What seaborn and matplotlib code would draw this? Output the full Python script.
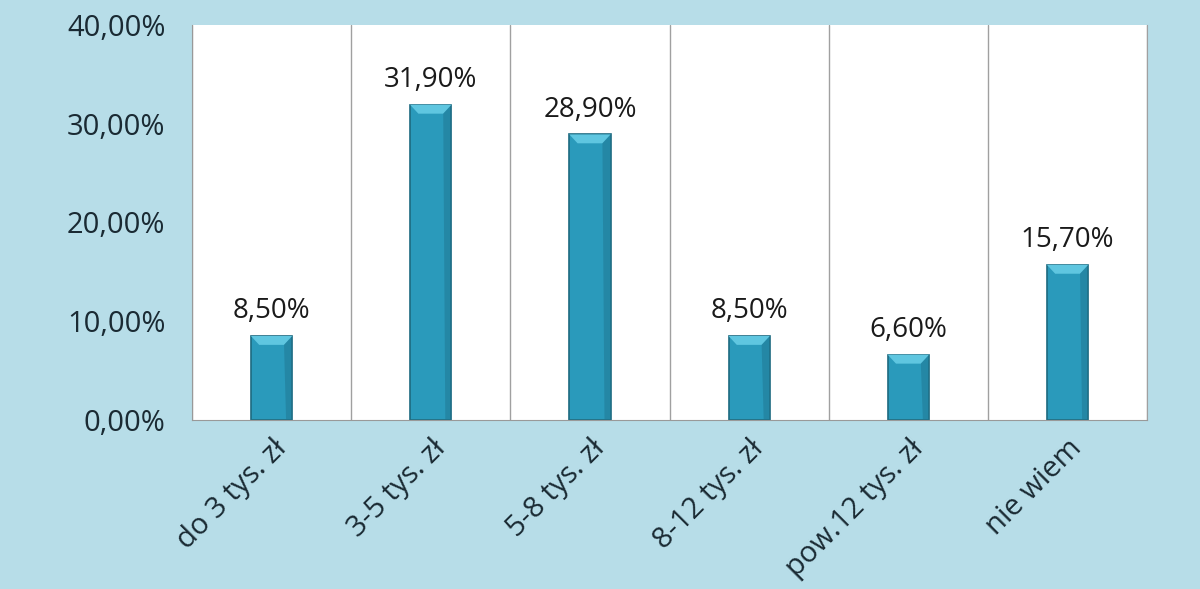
import seaborn as sns
import matplotlib.pyplot as plt
from matplotlib.patches import Polygon
import pandas as pd

categories = ["do 3 tys. zł", "3-5 tys. zł", "5-8 tys. zł", "8-12 tys. zł", "pow.12 tys. zł", "nie wiem"]
values = [8.5, 31.9, 28.9, 8.5, 6.6, 15.7]
yticks = [0, 10, 20, 30, 40]

bg = "#b7dde8"
bar_color = "#2a9abb"

df = pd.DataFrame({"kat": categories, "val": values})

sns.set_style("white")
plt.rcParams["font.family"] = ["Open Sans", "DejaVu Sans"]

fig = plt.figure(figsize=(12, 5.89), dpi=100, facecolor=bg)
ax = fig.add_axes([0.16, 0.287, 0.796, 0.671])
ax.set_facecolor("white")

sns.barplot(data=df, x="kat", y="val", color=bar_color, width=0.26,
            edgecolor="#1d6a80", linewidth=1.2, saturation=1, ax=ax)

# lighter bevel on bar tops, darker right side
for p in ax.patches:
    x0, w, h = p.get_x(), p.get_width(), p.get_height()
    cap = 0.9
    ax.add_patch(Polygon([[x0, h], [x0 + w, h], [x0 + w * 0.8, h - cap], [x0 + w * 0.2, h - cap]],
                         closed=True, facecolor="#5fc6e0", edgecolor="none", zorder=3))
    ax.add_patch(Polygon([[x0 + w * 0.8, h - cap], [x0 + w, h], [x0 + w, 0], [x0 + w * 0.85, 0]],
                         closed=True, facecolor="#1f7590", edgecolor="none", alpha=0.5, zorder=3))

for i, v in enumerate(values):
    ax.text(i, v + 1.1, f"{v:.2f}%".replace(".", ","), ha="center", va="bottom",
            fontsize=20, color="#1a1a1a")

ax.set_ylim(0, 40)
ax.set_xlim(-0.5, len(categories) - 0.5)
ax.set_yticks(yticks)
ax.set_yticklabels([f"{t:.2f}%".replace(".", ",") for t in yticks], fontsize=21, color="#1a2a33")
ax.set_xticks(range(len(categories)))
ax.set_xticklabels(categories, rotation=45, ha="right", rotation_mode="anchor", fontsize=21, color="#1a2a33")
ax.set_xlabel("")
ax.set_ylabel("")

# category boundary grid lines
ax.set_xticks([i - 0.5 for i in range(len(categories) + 1)], minor=True)
ax.grid(which="minor", axis="x", color="#a0a0a0", linewidth=1)
ax.tick_params(axis="x", which="major", length=0, pad=10)
ax.tick_params(axis="x", which="minor", length=7, color="#999999", direction="out")
ax.tick_params(axis="y", length=7, color="#999999", direction="out", pad=12)

ax.spines["top"].set_visible(False)
ax.spines["right"].set_color("#a0a0a0")
ax.spines["left"].set_color("#999999")
ax.spines["bottom"].set_color("#999999")

fig.savefig("out.png", dpi=100, facecolor=bg)
